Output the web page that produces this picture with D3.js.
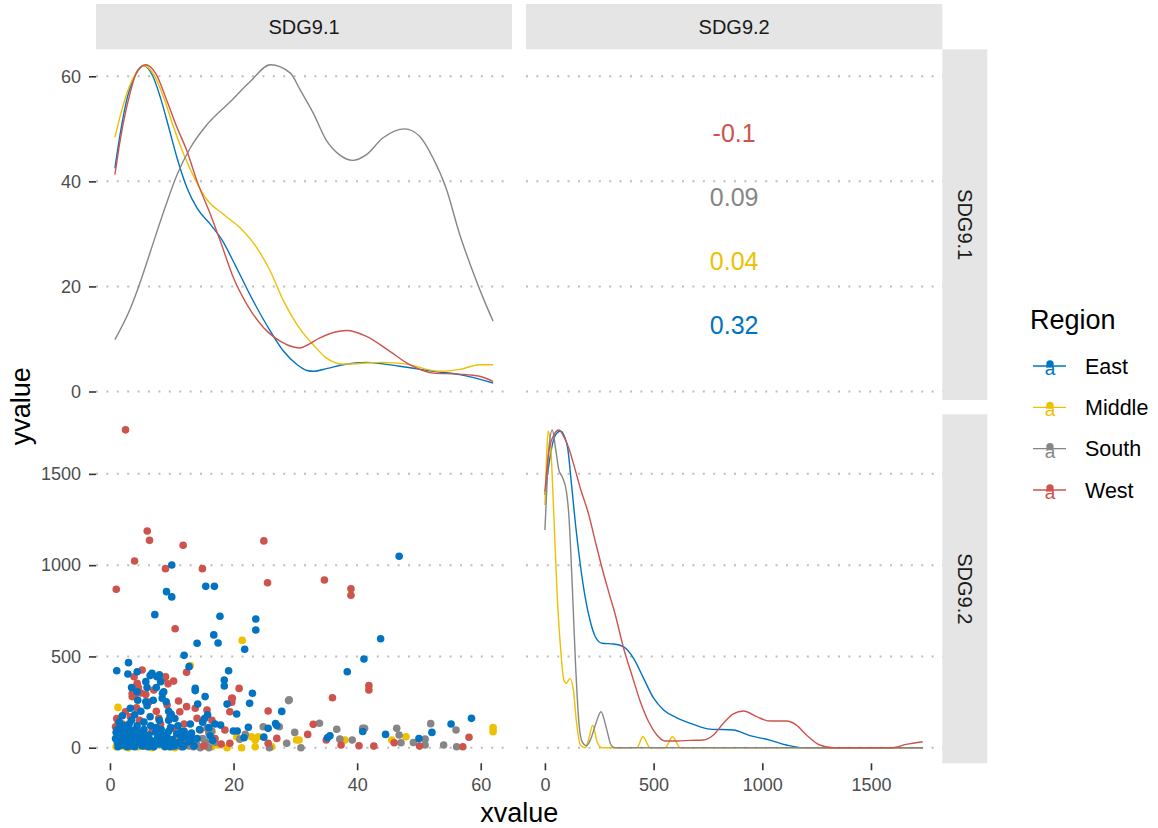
<!DOCTYPE html>
<html><head><meta charset="utf-8">
<script src="https://cdn.jsdelivr.net/npm/d3@7"></script>
<style>
body{margin:0;background:#fff}
text{font-family:"Liberation Sans",Arial,Helvetica,sans-serif}
</style>
</head><body>
<svg id="chart" width="1158" height="828"></svg>
<script>
// ---- data ----
const regions = ["East", "Middle", "South", "West"];
const regionColors = ["#0073C2", "#EFC000", "#868686", "#CD534C"];
const variables = ["SDG9.1", "SDG9.2"];
const ticksSDG91 = [0, 20, 40, 60];
const ticksSDG92 = [0, 500, 1000, 1500];
const rangeSDG91 = [0.8, 62.0];
const rangeSDG92 = [0, 1741];

// correlation per region, listed top to bottom
const corrOrder = ["West", "South", "Middle", "East"];
const corrText = ["-0.1", "0.09", "0.04", "0.32"];

// density of SDG9.1 by region (scaled onto the SDG9.1 range)
const dens91East = [[0.8,42.5],[1.72,49.5],[2.79,55.9],[4.14,60.3],[5.49,62.0],[6.83,60.3],[8.18,55.9],[9.53,50.2],[10.87,44.4],[12.49,38.7],[14.1,34.9],[16.26,31.8],[18.1,28.9],[20.5,23.5],[23.2,17.2],[25.95,11.5],[28.1,7.65],[30.3,5.1],[31.9,4.0],[32.9,3.84],[35.2,4.4],[37.7,5.1],[41.5,5.55],[46.9,4.8],[52.3,3.84],[56.6,3.2],[62.0,1.62]];
const dens91Middle = [[0.8,48.4],[1.72,52.7],[3.06,57.8],[4.41,61.0],[5.49,62.0],[7.1,60.3],[8.71,55.9],[10.33,50.2],[11.95,45.1],[13.8,40.3],[15.7,36.5],[18.4,33.7],[21.1,31.1],[23.8,27.3],[25.95,22.9],[28.1,17.2],[30.3,12.7],[31.9,10.2],[32.9,8.9],[35.0,6.4],[37.7,5.2],[44.2,5.55],[47.98,5.2],[53.4,3.84],[56.6,4.2],[59.8,5.1],[62.0,5.1]];
const dens91South = [[0.8,9.86],[3.33,15.9],[4.95,21.0],[6.56,26.7],[8.71,34.3],[10.87,41.3],[13.02,46.4],[15.7,50.8],[19.5,55.2],[22.7,59.0],[25.95,62.2],[29.2,60.6],[30.74,57.5],[32.9,53.0],[34.97,47.9],[37.1,45.1],[39.3,44.0],[41.5,45.1],[44.2,48.3],[47.7,50.0],[50.1,48.6],[52.3,44.4],[54.4,38.7],[56.6,29.9],[58.7,22.9],[60.6,17.2],[62.0,13.4]];
const dens91West = [[0.8,41.3],[1.72,48.3],[3.06,55.9],[4.41,61.0],[5.76,62.2],[7.37,60.6],[9.26,55.2],[10.87,50.2],[12.49,45.7],[14.1,40.0],[16.26,33.7],[17.87,28.6],[20.0,21.6],[22.2,16.5],[24.9,12.1],[27.6,9.55],[29.7,8.47],[30.74,8.28],[31.9,8.8],[33.96,10.2],[38.3,11.6],[41.5,10.5],[45.3,7.65],[48.5,5.1],[52.3,3.5],[56.6,3.3],[59.8,2.9],[62.0,1.94]];

// density of SDG9.2 by region (scaled onto the SDG9.2 range)
const dens92East = [[0,1385],[18,1549],[34,1659],[49,1713],[72,1735],[90,1704],[105,1640],[121,1458],[141,1220],[163,1001],[186,819],[209,690],[232,608],[263,572],[316,568],[362,553],[408,490],[454,380],[500,271],[546,207],[607,164],[683,128],[760,102],[867,97],[943,66],[1035,42],[1111,15],[1188,0],[1738,0]];
const dens92Middle = [[0,1330],[8,1604],[15,1735],[26,1659],[41,1275],[57,819],[72,545],[87,371],[99,353],[115,380],[130,325],[145,142],[163,15],[186,0],[202,51],[220,124],[240,33],[263,0],[423,0],[451,60],[484,0],[553,0],[587,60],[622,0],[1738,0]];
const dens92South = [[0,1193],[8,1403],[18,1640],[34,1740],[49,1640],[64,1522],[79,1485],[99,1403],[110,1275],[125,910],[141,453],[156,142],[171,33],[191,11],[209,42],[232,124],[258,197],[283,106],[304,15],[320,0],[1738,0]];
const dens92West = [[0,1403],[18,1622],[41,1713],[64,1740],[87,1704],[110,1640],[133,1549],[163,1421],[202,1275],[232,1129],[263,983],[293,855],[324,727],[362,545],[400,398],[439,252],[477,142],[515,70],[553,37],[607,37],[668,40],[729,42],[775,70],[821,134],[867,185],[913,201],[974,170],[1035,146],[1111,146],[1157,124],[1203,70],[1264,15],[1325,0],[1600,0],[1661,18],[1738,33]];

// observations: [SDG9.1, SDG9.2]
const pointsEast = [[46.8,1049],[10.0,1001],[15.5,884],[16.9,884],[9.15,855],[10.0,826],[7.26,729],[17.8,720],[23.6,705],[23.6,645],[16.8,618],[17.5,574],[14.1,572],[43.8,597],[21.8,539],[12.0,506],[41.1,486],[3.0,466],[12.8,444],[1.1,422],[19.2,422],[38.4,416],[2.9,404],[4.4,416],[6.8,408],[7.6,389],[8.2,362],[5.8,362],[18.5,371],[18.5,338],[13.8,325],[13.8,313],[4.4,307],[8.7,307],[23.05,298],[8.5,298],[15.4,280],[8.45,271],[5.8,252],[9.1,252],[22.6,243],[14.2,239],[18.95,239],[3.3,216],[27.8,199],[9.8,185],[20.5,185],[9.9,183],[26.8,133],[27.0,122],[17.9,124],[58.5,161],[55.2,130],[22.4,112],[25.6,106],[20.6,92],[40.9,89],[52.1,84],[44.6,73],[35.6,66],[35.2,55],[50.0,50],[24.9,58],[21.7,55],[19.97,92],
[1.0,85],[1.2,30],[1.3,5],[1.6,60],[1.9,110],[2.1,15],[2.3,45],[2.6,85],[2.8,5],[3.1,130],[3.3,60],[3.5,25],[3.8,95],[4.0,5],[4.2,55],[4.4,120],[4.7,30],[5.0,80],[5.2,10],[5.5,100],[5.8,45],[6.0,15],[6.3,70],[6.6,120],[6.9,35],[7.1,5],[7.4,85],[7.7,55],[8.0,20],[8.3,100],[8.6,40],[8.9,5],[9.2,65],[9.5,25],[9.8,110],[10.1,45],[10.5,10],[10.8,75],[11.2,30],[11.6,55],[12.0,15],[12.4,60],[12.8,35],[13.2,80],[13.6,10],[14.1,50],[15.0,140],[15.3,160],[15.8,180],[16.2,65],[16.6,40],[17.0,130],[8.0,150],[6.5,170],[9.5,150],
[1.5,140],[2.0,175],[2.5,120],[3.0,95],[3.5,150],[4.0,180],[5.0,200],[5.5,140],[6.0,230],[7.0,260],[7.5,330],[8.0,400],[6.5,395],[6.0,330],[3.5,330],[4.5,260],[9.5,200],[10.5,160],[11.0,120],[12.0,90],[13.0,130],[14.5,100],[16.0,110],[1.2,100],[2.0,70],[3.0,40],[4.5,90],[5.5,60],[6.5,40],[7.5,110],[8.5,70],[9.5,90],[10.5,30],[11.5,90],[0.9,50],[1.4,20],[2.4,25],[3.6,10],[6.2,5],[9.8,5],[11.8,5],[13.3,50],[4.9,45],[7.3,30]];
const pointsMiddle = [[21.4,588],[13.0,450],[1.3,221],[62.0,110],[62.0,88],[47.9,60],[45.6,42],[38.0,42],[30.6,42],[30.2,42],[20.5,60],[21.3,0],[22.9,60],[23.5,42],[23.5,5],[24.0,60],[26.2,5],
[2.0,10],[3.0,0],[4.5,5],[5.5,20],[6.8,0],[8.0,15],[9.0,30],[10.5,0],[12.0,10],[13.5,25],[14.5,5],[16.5,5],[18.95,0],[17.5,15],[7.5,40],[3.8,30],[11.0,40],
[1.0,5],[2.5,5],[5.0,40],[6.0,10],[9.5,5],[12.5,45],[15.5,20],[7.0,25],[3.5,70],[10.0,15]];
const pointsSouth = [[28.9,258],[29.0,262],[33.9,134],[36.7,101],[29.9,84],[28.6,24],[30.9,0],[24.8,115],[27.4,115],[21.0,47],[21.9,73],[25.8,0],[37.2,47],[39.2,42],[40.9,106],[41.2,106],[46.4,106],[46.8,70],[47.1,27],[49.1,29],[51.0,47],[51.0,15],[51.9,132],[54.0,15],[56.0,97],[56.1,5],
[14.1,15],[15.7,106],[15.0,50],[16.0,80],[13.5,5],[14.6,0],[17.0,30],[12.8,10],
[13.0,40],[15.5,30],[16.5,90],[11.5,5],[12.0,25],[16.0,0]];
const pointsWest = [[2.52,1741],[6.03,1187],[6.4,1136],[3.98,1023],[11.84,1109],[8.98,981],[14.96,981],[1.02,868],[10.55,652],[24.9,1133],[25.5,904],[34.7,919],[39.0,871],[39.0,835],[12.4,413],[36.0,274],[41.9,340],[41.9,316],[20.9,325],[19.7,271],[19.7,249],[19.4,197],[25.6,201],[32.9,128],[32.0,73],[27.0,51],[25.6,24],[35.0,42],[37.4,15],[40.3,11],[42.7,9],[46.0,27],[50.1,9],[57.1,5],[58.1,57],[19.4,24],
[0.9,115],[1.3,146],[1.1,160],[1.5,80],[2.5,197],[4.3,219],[3.3,170],[2.0,130],[3.6,298],[3.6,280],[3.9,389],[4.4,353],[5.2,426],[5.8,292],[7.1,316],[7.9,161],[9.0,389],[9.25,234],[10.3,365],[10.3,106],[11.1,256],[11.3,197],[12.4,225],[13.8,216],[14.1,161],[15.7,207],[14.6,97],[18.6,97],[19.8,271],[6.0,40],[8.5,20],[11.5,60],[12.8,30],[15.2,10],[17.0,50],[18.0,20],[2.2,60],[4.8,150],[6.8,90],
[2.8,110],[4.0,60],[5.0,300],[6.3,250],[7.5,200],[8.2,130],[9.7,170],[12.0,130],[13.0,70],[16.5,150],[3.0,20],[5.5,10],[9.0,55],[10.8,25],[2.0,30],[4.0,280],[4.6,330],[8.6,380],[9.4,350]];

// ---- layout ----
const svg = d3.select("#chart");
const colX = [[96, 512], [526, 942.3]];
const rowY = [[49.3, 400], [414.3, 763.3]];
const stripTop = [4, 49.3];
const stripRight = [942.3, 987.3];

function expand(r, lo, hi) { const d = r[1] - r[0]; return [r[0] - lo * d, r[1] + hi * d]; }
const x91 = d3.scaleLinear().domain(expand(rangeSDG91, 0.05, 0.05)).range(colX[0]);
const x92 = d3.scaleLinear().domain(expand(rangeSDG92, 0.05, 0.05)).range(colX[1]);
const y91 = d3.scaleLinear().domain([-1.62, 65.14]).range([rowY[0][1], rowY[0][0]]);
const y92 = d3.scaleLinear().domain(expand(rangeSDG92, 0.049, 0.049)).range([rowY[1][1], rowY[1][0]]);
const color = d3.scaleOrdinal().domain(regions).range(regionColors);

const xs = [x91, x92], ys = [y91, y92], yTicks = [ticksSDG91, ticksSDG92], xTicks = [ticksSDG91, ticksSDG92];

// strips
variables.forEach((v, i) => {
  svg.append("rect").attr("x", colX[i][0]).attr("y", stripTop[0])
    .attr("width", colX[i][1] - colX[i][0]).attr("height", stripTop[1] - stripTop[0]).attr("fill", "#E5E5E5");
  svg.append("text").attr("x", (colX[i][0] + colX[i][1]) / 2).attr("y", (stripTop[0] + stripTop[1]) / 2)
    .attr("dy", "0.36em").attr("text-anchor", "middle").attr("font-size", 20).attr("fill", "#1A1A1A").text(v);
  svg.append("rect").attr("x", stripRight[0]).attr("y", rowY[i][0])
    .attr("width", stripRight[1] - stripRight[0]).attr("height", rowY[i][1] - rowY[i][0]).attr("fill", "#E5E5E5");
  const cy = (rowY[i][0] + rowY[i][1]) / 2, cx = (stripRight[0] + stripRight[1]) / 2;
  svg.append("text").attr("transform", `translate(${cx},${cy}) rotate(90)`)
    .attr("dy", "0.36em").attr("text-anchor", "middle").attr("font-size", 20).attr("fill", "#1A1A1A").text(v);
});

// dotted horizontal grid
for (let r = 0; r < 2; r++) {
  for (let c = 0; c < 2; c++) {
    svg.append("g").selectAll("line").data(yTicks[r]).join("line")
      .attr("x1", colX[c][0]).attr("x2", colX[c][1])
      .attr("y1", d => ys[r](d)).attr("y2", d => ys[r](d))
      .attr("stroke", "#BDBDBD").attr("stroke-width", 2).attr("stroke-dasharray", "2,8.4");
  }
}

// axes
function styleAxis(g) {
  g.select(".domain").remove();
  g.selectAll(".tick line").attr("stroke", "#333333").attr("stroke-width", 1.6);
  g.selectAll(".tick text").attr("fill", "#4D4D4D").attr("font-size", 18)
    .attr("font-family", "Liberation Sans, Arial, sans-serif");
}
for (let r = 0; r < 2; r++) {
  svg.append("g").attr("transform", `translate(${colX[0][0]},0)`)
    .call(d3.axisLeft(ys[r]).tickValues(yTicks[r]).tickSize(7).tickPadding(8).tickFormat(d3.format("d")))
    .call(styleAxis);
}
for (let c = 0; c < 2; c++) {
  svg.append("g").attr("transform", `translate(0,${rowY[1][1]})`)
    .call(d3.axisBottom(xs[c]).tickValues(xTicks[c]).tickSize(7).tickPadding(8).tickFormat(d3.format("d")))
    .call(styleAxis);
}

// diagonal densities
const densTop = {East: dens91East, Middle: dens91Middle, South: dens91South, West: dens91West};
const densBottom = {East: dens92East, Middle: dens92Middle, South: dens92South, West: dens92West};
const diag = [[densTop, x91, y91], [densBottom, x92, y92]];
diag.forEach(([dens, sx, sy]) => {
  const line = d3.line().x(d => sx(d[0])).y(d => sy(d[1])).curve(d3.curveMonotoneX);
  svg.append("g").selectAll("path").data(regions).join("path")
    .attr("d", r => line(dens[r])).attr("fill", "none")
    .attr("stroke", r => color(r)).attr("stroke-width", 1.4);
});

// correlations (upper panel)
const corrY = d3.scalePoint().domain(corrOrder).range([133, 325]);
svg.append("g").selectAll("text").data(corrOrder).join("text")
  .attr("x", (colX[1][0] + colX[1][1]) / 2).attr("y", r => corrY(r)).attr("dy", "0.36em")
  .attr("text-anchor", "middle").attr("font-size", 25).attr("fill", r => color(r))
  .text((r, i) => corrText[i]);

// scatter (lower panel)
const pts = [];
[["Middle", pointsMiddle], ["South", pointsSouth], ["West", pointsWest], ["East", pointsEast]]
  .forEach(([r, arr]) => arr.forEach(p => pts.push({r, x: p[0], y: p[1]})));
svg.append("g").selectAll("circle").data(pts).join("circle")
  .attr("cx", d => x91(d.x)).attr("cy", d => y92(d.y)).attr("r", 3.8)
  .attr("fill", d => color(d.r));

// axis titles
svg.append("text").attr("x", (colX[0][0] + colX[1][1]) / 2).attr("y", 822)
  .attr("text-anchor", "middle").attr("font-size", 27).attr("fill", "#000").text("xvalue");
svg.append("text").attr("transform", `translate(30,${(rowY[0][0] + rowY[1][1]) / 2}) rotate(-90)`)
  .attr("text-anchor", "middle").attr("font-size", 27).attr("fill", "#000").text("yvalue");

// legend
const lg = svg.append("g").attr("transform", "translate(1030,0)");
lg.append("text").attr("x", 0).attr("y", 329).attr("font-size", 27).attr("fill", "#000").text("Region");
const ly = d3.scalePoint().domain(regions).range([366, 490]);
const item = lg.selectAll("g.item").data(regions).join("g").attr("class", "item")
  .attr("transform", r => `translate(0,${ly(r)})`);
item.append("line").attr("x1", 3).attr("x2", 36).attr("stroke", r => color(r)).attr("stroke-width", 1.4);
item.append("circle").attr("cx", 20).attr("cy", -2).attr("r", 3.7).attr("fill", r => color(r));
item.append("text").attr("x", 20).attr("y", 9).attr("text-anchor", "middle").attr("font-size", 19)
  .attr("fill", r => color(r)).text("a");
item.append("text").attr("x", 55).attr("y", 0).attr("dy", "0.36em").attr("font-size", 21.5)
  .attr("fill", "#000").text(r => r);
</script>
</body></html>
